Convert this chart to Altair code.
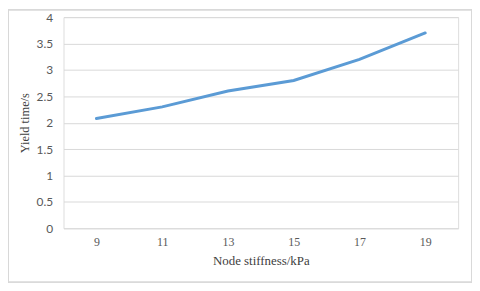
import altair as alt
import pandas as pd

stiffness = ["9", "11", "13", "15", "17", "19"]
yield_time = [2.08, 2.3, 2.6, 2.8, 3.2, 3.7]

df = pd.DataFrame({"stiffness": stiffness, "yield": yield_time})

line = alt.Chart(df).mark_line(color="#5B9BD5", strokeWidth=3, strokeCap="round").encode(
    x=alt.X("stiffness:O", sort=stiffness, title="Node stiffness/kPa",
            scale=alt.Scale(type="point", padding=0.5),
            axis=alt.Axis(labelAngle=0, ticks=False, domain=False, grid=False,
                          labelFont="Liberation Serif", labelFontSize=12, labelColor="#595959",
                          labelPadding=8, titleFont="Liberation Serif", titleFontSize=13,
                          titleFontWeight="normal", titleColor="#404040", titlePadding=8)),
    y=alt.Y("yield:Q", title="Yield time/s",
            scale=alt.Scale(domain=[0, 4]),
            axis=alt.Axis(values=[0, 0.5, 1, 1.5, 2, 2.5, 3, 3.5, 4], format="~g",
                          ticks=False, domain=False, gridColor="#d9d9d9", gridWidth=1,
                          labelFont="Lato", labelFontSize=12, labelColor="#595959",
                          labelPadding=11, titleFont="Liberation Serif", titleFontSize=12.5,
                          titleFontWeight="normal", titleColor="#404040", titlePadding=5)),
)

border = alt.Chart(df).mark_rect(fill=None, stroke="#d9d9d9", strokeWidth=1, clip=False).encode(
    x=alt.value(-55.5), x2=alt.value(411.5), y=alt.value(-7.5), y2=alt.value(267.5)
)

chart = alt.layer(border, line).properties(
    width=398, height=213,
    autosize=alt.AutoSizeParams(type="none"),
    padding={"left": 56, "top": 8, "right": 14, "bottom": 56},
).configure_view(stroke=None).configure(background="white")

chart.save("out.html", embed_options={"renderer": "svg", "actions": False})
